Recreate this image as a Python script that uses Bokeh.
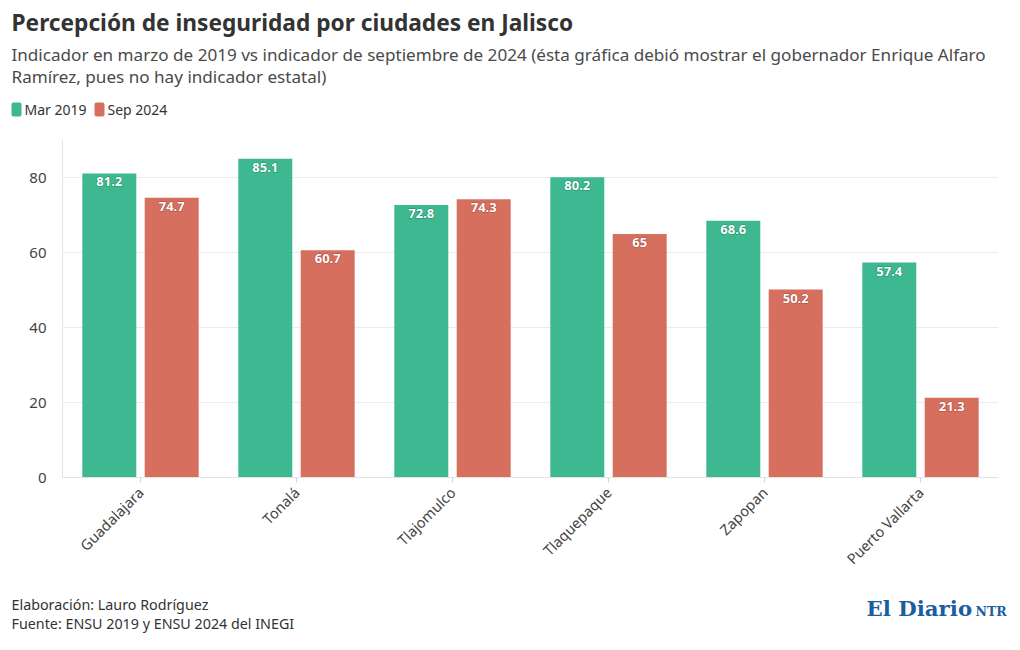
from bokeh.plotting import figure
from bokeh.models import ColumnDataSource, FactorRange, Range1d, FixedTicker
from bokeh.transform import dodge
from bokeh.layouts import column, row
from bokeh.embed import file_html
from bokeh.resources import INLINE
from bokeh.core.properties import value
import math

cities = ["Guadalajara", "Tonalá", "Tlajomulco", "Tlaquepaque", "Zapopan", "Puerto Vallarta"]
mar2019 = [81.2, 85.1, 72.8, 80.2, 68.6, 57.4]
sep2024 = [74.7, 60.7, 74.3, 65.0, 50.2, 21.3]
series_names = ["Mar 2019", "Sep 2024"]
y_ticks = [0, 20, 40, 60, 80]

title = "Percepción de inseguridad por ciudades en Jalisco"
subtitle = ["Indicador en marzo de 2019 vs indicador de septiembre de 2024 (ésta gráfica debió mostrar el gobernador Enrique Alfaro",
            "Ramírez, pues no hay indicador estatal)"]
footer = ["Elaboración: Lauro Rodríguez", "Fuente: ENSU 2019 y ENSU 2024 del INEGI"]

GREEN = "#3db891"
RED = "#d76f5f"
GREEN_DARK = "#1e8a66"
RED_DARK = "#a94a3b"
FONT = "Noto Sans"
W = 1020


def blank(h):
    f = figure(width=W, height=h, x_range=Range1d(0, W), y_range=Range1d(h, 0),
               x_axis_type=None, y_axis_type=None, output_backend="svg",
               toolbar_location=None, min_border=0, min_border_left=0,
               min_border_right=0, min_border_top=0, min_border_bottom=0)
    f.outline_line_color = None
    f.grid.grid_line_color = None
    return f


# ---- header ----
top = blank(140)
top.text(x=[11], y=[22], text=[title], text_baseline="middle", text_font=value(FONT),
         text_font_size="22.7px", text_font_style="bold", text_color="#333333")
top.text(x=[11, 11], y=[54, 76], text=subtitle, text_baseline="middle", text_font=value(FONT),
         text_font_size="17.1px", text_color="#4a4a4a")
leg_x = [11, 94]
top.quad(left=leg_x, right=[x + 10 for x in leg_x], top=[102, 102], bottom=[116, 116],
         fill_color=[GREEN, RED], line_color=None, border_radius=2)
top.text(x=[x + 13 for x in leg_x], y=[109, 109], text=series_names, text_baseline="middle",
         text_font=value(FONT), text_font_size="14px", text_color="#333333")

# ---- main chart ----
src = ColumnDataSource(dict(
    city=cities,
    mar=mar2019,
    sep=sep2024,
    mar_lbl=[f"{v:g}" for v in mar2019],
    sep_lbl=[f"{v:g}" for v in sep2024],
))

p = figure(width=W, height=450, x_range=FactorRange(factors=cities),
           y_range=Range1d(0, 90), output_backend="svg", toolbar_location=None,
           min_border_left=62, min_border_right=22, min_border_top=0, min_border_bottom=113)
p.outline_line_color = None

p.vbar(x=dodge("city", -0.2, range=p.x_range), top="mar", width=0.346, source=src,
       fill_color=GREEN, line_color=None)
p.vbar(x=dodge("city", 0.2, range=p.x_range), top="sep", width=0.346, source=src,
       fill_color=RED, line_color=None)

for col, lbl, off, dark in (("mar", "mar_lbl", -0.2, GREEN_DARK), ("sep", "sep_lbl", 0.2, RED_DARK)):
    p.text(x=dodge("city", off, range=p.x_range), y=col, text=lbl, source=src,
           text_align="center", text_baseline="top", y_offset=4,
           text_color=dark, text_font_style="bold", text_font_size="13px",
           text_font=value(FONT), text_outline_color=dark)
    p.text(x=dodge("city", off, range=p.x_range), y=col, text=lbl, source=src,
           text_align="center", text_baseline="top", y_offset=4,
           text_color="white", text_font_style="bold", text_font_size="13px",
           text_font=value(FONT))

p.yaxis.ticker = FixedTicker(ticks=y_ticks)
p.yaxis.axis_line_color = "#e3e3e3"
p.yaxis.major_tick_line_color = None
p.yaxis.minor_tick_line_color = None
p.yaxis.major_label_standoff = 10
p.yaxis.major_label_text_font = FONT
p.yaxis.major_label_text_font_size = "15px"
p.yaxis.major_label_text_color = "#444444"

p.xaxis.axis_line_color = "#e3e3e3"
p.xaxis.major_tick_line_color = "#d5d5d5"
p.xaxis.major_tick_out = 5
p.xaxis.major_tick_in = 0
p.xaxis.major_label_orientation = math.pi / 4
p.xaxis.major_label_standoff = 7
p.xaxis.major_label_text_font = FONT
p.xaxis.major_label_text_font_size = "14.5px"
p.xaxis.major_label_text_color = "#444444"

p.xgrid.grid_line_color = None
p.ygrid.grid_line_color = "#ececec"

# ---- footer ----
bot = blank(60)
bot.text(x=[11, 11], y=[14, 33], text=footer, text_baseline="middle", text_font=value(FONT),
         text_font_size="14.3px", text_color="#333333")
bot.text(x=[866], y=[18], text=["El Diario"], text_baseline="middle",
         text_font=value("DejaVu Serif"), text_font_size="21.3px", text_font_style="bold",
         text_color="#1b5e9f")
bot.text(x=[975], y=[21], text=["NTR"], text_baseline="middle",
         text_font=value("DejaVu Serif"), text_font_size="12.5px", text_font_style="bold",
         text_color="#1b5e9f")

layout = column(row(top), row(p), row(bot), spacing=0)
open("out.html", "w").write(file_html(layout, INLINE))
